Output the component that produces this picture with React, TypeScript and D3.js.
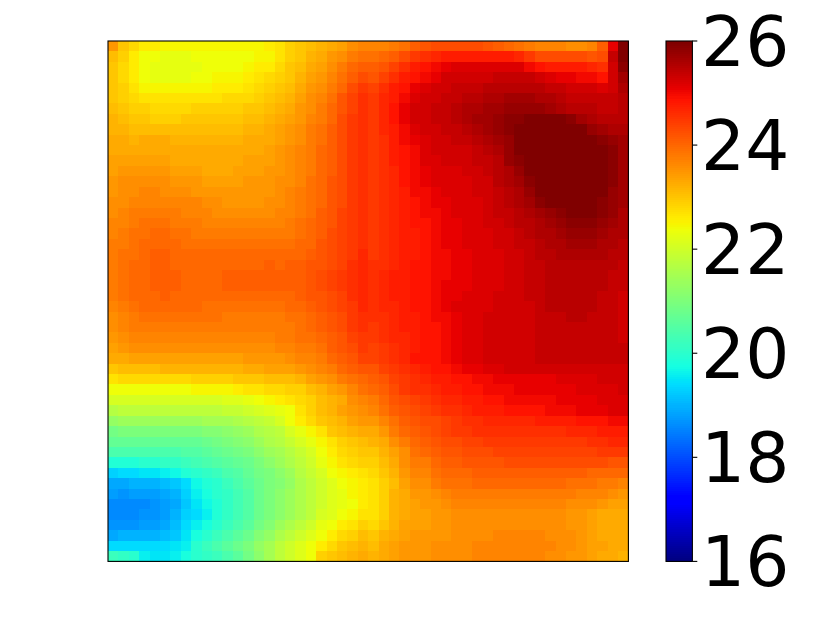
import React from "react";
import * as d3 from "d3";

const colorbarTicks = [16, 18, 20, 22, 24, 26];

const heatRows: number[][] = [
[23.5,23.0,22.8,22.6,22.6,22.5,22.5,22.5,22.5,22.5,22.5,22.5,22.5,22.5,22.5,22.6,22.7,22.9,23.0,23.1,23.2,23.3,23.4,23.6,23.7,23.7,23.7,23.8,23.9,24.1,24.2,24.3,24.3,24.3,24.3,24.3,24.2,24.1,24.0,23.9,23.8,23.7,23.7,23.7,23.6,23.6,23.7,24.1,25.1,26.0],
[23.1,22.9,22.6,22.4,22.4,22.3,22.3,22.3,22.4,22.4,22.4,22.4,22.4,22.4,22.5,22.5,22.7,22.9,23.0,23.2,23.3,23.5,23.6,23.8,23.9,23.9,24.0,24.1,24.3,24.5,24.6,24.7,24.8,24.8,24.8,24.8,24.8,24.8,24.8,24.7,24.5,24.3,24.3,24.3,24.3,24.3,24.2,24.3,25.4,26.0],
[23.0,22.8,22.6,22.4,22.3,22.3,22.3,22.3,22.3,22.4,22.4,22.4,22.4,22.5,22.6,22.6,22.8,23.0,23.1,23.3,23.4,23.6,23.8,24.0,24.1,24.1,24.2,24.4,24.6,24.8,24.9,25.0,25.1,25.2,25.2,25.2,25.2,25.2,25.2,25.2,25.0,24.9,24.8,24.8,24.8,24.8,24.7,24.6,25.3,25.9],
[23.0,22.8,22.6,22.4,22.3,22.3,22.3,22.3,22.4,22.4,22.5,22.5,22.5,22.6,22.7,22.8,22.9,23.0,23.2,23.4,23.5,23.7,23.9,24.1,24.3,24.2,24.4,24.6,24.8,24.9,25.0,25.1,25.3,25.3,25.3,25.3,25.3,25.4,25.4,25.4,25.4,25.3,25.2,25.1,25.1,25.0,25.0,24.9,25.3,25.7],
[23.0,22.9,22.7,22.5,22.5,22.5,22.5,22.5,22.5,22.5,22.6,22.6,22.6,22.7,22.8,22.9,23.0,23.1,23.3,23.5,23.6,23.8,24.0,24.3,24.5,24.4,24.6,24.8,24.9,25.1,25.2,25.3,25.3,25.4,25.4,25.4,25.5,25.5,25.5,25.5,25.5,25.5,25.4,25.4,25.3,25.3,25.3,25.2,25.3,25.6],
[23.0,22.9,22.8,22.7,22.7,22.7,22.7,22.7,22.7,22.7,22.7,22.8,22.8,22.8,22.9,23.0,23.1,23.2,23.4,23.6,23.7,23.9,24.2,24.4,24.6,24.5,24.7,24.8,25.0,25.2,25.3,25.3,25.4,25.4,25.5,25.5,25.6,25.6,25.7,25.7,25.7,25.6,25.6,25.5,25.4,25.4,25.4,25.4,25.4,25.5],
[23.1,23.0,22.9,22.9,22.8,22.8,22.8,22.8,22.9,22.9,22.9,22.9,22.9,23.0,23.0,23.1,23.2,23.3,23.5,23.6,23.8,24.0,24.2,24.4,24.6,24.5,24.7,24.9,25.1,25.3,25.3,25.4,25.4,25.5,25.6,25.6,25.7,25.7,25.8,25.8,25.8,25.8,25.7,25.6,25.5,25.5,25.5,25.4,25.4,25.5],
[23.2,23.1,23.0,23.0,22.9,22.9,22.9,23.0,23.0,23.0,23.0,23.0,23.0,23.1,23.1,23.2,23.3,23.4,23.5,23.7,23.8,24.0,24.3,24.5,24.6,24.5,24.7,24.9,25.1,25.3,25.3,25.4,25.4,25.5,25.6,25.7,25.7,25.8,25.9,25.9,26.0,26.0,26.0,26.0,25.9,25.7,25.6,25.5,25.5,25.5],
[23.2,23.2,23.1,23.1,23.1,23.1,23.1,23.1,23.1,23.1,23.1,23.1,23.1,23.2,23.2,23.3,23.4,23.5,23.6,23.8,23.9,24.1,24.3,24.5,24.6,24.5,24.7,24.8,25.0,25.2,25.3,25.3,25.4,25.4,25.5,25.6,25.7,25.8,25.9,26.0,26.0,26.0,26.0,26.0,26.0,26.0,25.8,25.7,25.6,25.6],
[23.3,23.3,23.2,23.3,23.3,23.3,23.2,23.2,23.2,23.2,23.2,23.2,23.2,23.3,23.3,23.3,23.4,23.5,23.6,23.8,23.9,24.1,24.3,24.5,24.6,24.5,24.6,24.8,25.0,25.1,25.2,25.3,25.3,25.4,25.4,25.5,25.6,25.7,25.8,26.0,26.0,26.0,26.0,26.0,26.0,26.0,26.0,25.9,25.8,25.7],
[23.3,23.3,23.3,23.3,23.3,23.3,23.3,23.3,23.3,23.3,23.3,23.3,23.3,23.3,23.3,23.4,23.5,23.6,23.7,23.8,24.0,24.1,24.3,24.5,24.6,24.5,24.6,24.8,24.9,25.0,25.2,25.3,25.3,25.3,25.3,25.4,25.5,25.6,25.8,26.0,26.0,26.0,26.0,26.0,26.0,26.0,26.0,26.0,25.9,25.7],
[23.4,23.4,23.4,23.4,23.4,23.4,23.3,23.3,23.3,23.3,23.3,23.3,23.3,23.4,23.4,23.4,23.5,23.6,23.7,23.8,24.0,24.1,24.3,24.5,24.6,24.5,24.6,24.8,24.9,25.0,25.2,25.2,25.3,25.3,25.3,25.4,25.4,25.5,25.8,25.9,26.0,26.0,26.0,26.0,26.0,26.0,26.0,26.0,25.9,25.7],
[23.4,23.5,23.5,23.5,23.5,23.5,23.4,23.4,23.4,23.3,23.3,23.3,23.4,23.4,23.4,23.5,23.5,23.6,23.7,23.8,24.0,24.1,24.3,24.5,24.6,24.5,24.6,24.7,24.9,25.0,25.1,25.2,25.2,25.2,25.3,25.3,25.4,25.5,25.6,25.8,26.0,26.0,26.0,26.0,26.0,26.0,26.0,26.0,25.9,25.7],
[23.5,23.6,23.6,23.6,23.6,23.6,23.5,23.5,23.5,23.4,23.4,23.4,23.4,23.5,23.5,23.5,23.6,23.6,23.7,23.9,24.0,24.2,24.3,24.5,24.6,24.5,24.6,24.7,24.9,25.0,25.1,25.2,25.2,25.2,25.2,25.3,25.3,25.5,25.6,25.7,25.9,26.0,26.0,26.0,26.0,26.0,26.0,26.0,25.9,25.7],
[23.5,23.6,23.6,23.7,23.7,23.6,23.6,23.6,23.5,23.5,23.5,23.5,23.5,23.5,23.5,23.5,23.6,23.7,23.8,23.9,24.0,24.2,24.3,24.5,24.6,24.5,24.6,24.7,24.8,25.0,25.0,25.1,25.2,25.2,25.2,25.3,25.3,25.4,25.5,25.6,25.8,26.0,26.0,26.0,26.0,26.0,26.0,26.0,25.8,25.7],
[23.6,23.6,23.7,23.7,23.7,23.7,23.7,23.7,23.7,23.6,23.6,23.5,23.5,23.5,23.5,23.6,23.6,23.7,23.8,23.9,24.0,24.2,24.3,24.5,24.6,24.5,24.6,24.7,24.8,24.9,25.0,25.1,25.1,25.2,25.2,25.2,25.3,25.4,25.5,25.6,25.7,25.9,26.0,26.0,26.0,26.0,26.0,25.9,25.8,25.7],
[23.6,23.7,23.8,23.8,23.8,23.8,23.8,23.7,23.7,23.7,23.6,23.6,23.6,23.6,23.6,23.6,23.7,23.7,23.8,23.9,24.1,24.2,24.4,24.5,24.6,24.5,24.6,24.7,24.8,24.9,25.0,25.0,25.1,25.2,25.2,25.2,25.3,25.4,25.4,25.5,25.6,25.7,25.8,25.9,26.0,26.0,26.0,25.9,25.8,25.6],
[23.7,23.7,23.8,23.9,23.9,23.9,23.8,23.8,23.8,23.7,23.7,23.7,23.7,23.7,23.7,23.7,23.7,23.8,23.9,24.0,24.1,24.2,24.4,24.5,24.6,24.5,24.6,24.7,24.8,24.9,24.9,25.0,25.1,25.1,25.2,25.2,25.3,25.3,25.4,25.5,25.5,25.6,25.7,25.8,25.9,25.9,25.9,25.8,25.7,25.6],
[23.7,23.8,23.9,23.9,24.0,24.0,23.9,23.9,23.8,23.8,23.8,23.8,23.8,23.8,23.8,23.8,23.8,23.8,23.9,24.0,24.1,24.3,24.4,24.5,24.6,24.5,24.6,24.7,24.8,24.8,24.9,25.0,25.1,25.1,25.2,25.2,25.2,25.3,25.3,25.4,25.5,25.6,25.6,25.7,25.8,25.8,25.8,25.7,25.6,25.6],
[23.8,23.8,23.9,24.0,24.0,24.0,24.0,23.9,23.9,23.9,23.9,23.9,23.9,23.9,23.9,23.9,23.9,23.9,24.0,24.0,24.2,24.3,24.4,24.5,24.6,24.5,24.6,24.7,24.8,24.8,24.9,25.0,25.1,25.1,25.2,25.2,25.2,25.3,25.3,25.4,25.4,25.5,25.6,25.6,25.7,25.7,25.7,25.6,25.6,25.5],
[23.8,23.9,23.9,24.0,24.1,24.1,24.0,24.0,24.0,24.0,24.0,24.0,24.0,24.0,24.0,24.0,24.0,24.0,24.0,24.1,24.2,24.3,24.4,24.5,24.7,24.5,24.6,24.7,24.8,24.8,24.9,25.0,25.0,25.1,25.1,25.2,25.2,25.2,25.3,25.3,25.4,25.5,25.5,25.6,25.6,25.6,25.6,25.6,25.5,25.5],
[23.8,23.9,24.0,24.0,24.1,24.1,24.0,24.0,24.0,24.0,24.0,24.0,24.0,24.0,24.0,24.1,24.0,24.1,24.1,24.2,24.2,24.3,24.4,24.6,24.7,24.6,24.6,24.7,24.8,24.9,24.9,25.0,25.0,25.1,25.1,25.2,25.2,25.2,25.3,25.3,25.4,25.4,25.5,25.5,25.5,25.5,25.5,25.5,25.5,25.4],
[23.8,23.9,24.0,24.0,24.1,24.1,24.1,24.0,24.0,24.0,24.0,24.1,24.1,24.1,24.1,24.1,24.1,24.1,24.1,24.2,24.3,24.4,24.5,24.6,24.7,24.6,24.7,24.8,24.8,24.9,24.9,25.0,25.0,25.1,25.1,25.2,25.2,25.2,25.3,25.3,25.4,25.4,25.5,25.5,25.5,25.5,25.5,25.5,25.4,25.4],
[23.8,23.9,24.0,24.0,24.1,24.1,24.1,24.0,24.0,24.0,24.0,24.1,24.1,24.1,24.1,24.1,24.1,24.1,24.1,24.2,24.3,24.4,24.5,24.6,24.7,24.6,24.7,24.8,24.8,24.9,24.9,25.0,25.1,25.1,25.1,25.2,25.2,25.2,25.3,25.3,25.4,25.4,25.5,25.5,25.5,25.5,25.5,25.5,25.4,25.4],
[23.8,23.9,24.0,24.0,24.0,24.1,24.0,24.0,24.0,24.0,24.0,24.0,24.0,24.0,24.0,24.0,24.0,24.0,24.1,24.2,24.2,24.3,24.4,24.6,24.7,24.6,24.7,24.8,24.8,24.9,24.9,25.0,25.1,25.1,25.2,25.2,25.2,25.3,25.3,25.3,25.4,25.4,25.5,25.5,25.5,25.5,25.5,25.4,25.4,25.3],
[23.7,23.8,23.9,24.0,24.0,24.0,24.0,24.0,24.0,23.9,23.9,23.9,23.9,23.9,23.9,23.9,23.9,24.0,24.0,24.1,24.2,24.3,24.4,24.5,24.7,24.6,24.7,24.7,24.8,24.9,24.9,25.0,25.1,25.2,25.2,25.2,25.2,25.3,25.3,25.3,25.3,25.4,25.5,25.5,25.5,25.5,25.5,25.4,25.4,25.3],
[23.6,23.7,23.8,23.9,23.9,23.9,23.9,23.9,23.9,23.9,23.9,23.8,23.8,23.8,23.8,23.8,23.8,23.9,23.9,24.0,24.1,24.2,24.3,24.5,24.6,24.6,24.6,24.7,24.8,24.8,24.9,25.0,25.0,25.1,25.2,25.2,25.3,25.3,25.3,25.3,25.3,25.4,25.4,25.4,25.5,25.5,25.4,25.4,25.4,25.3],
[23.6,23.7,23.8,23.8,23.8,23.8,23.8,23.8,23.8,23.8,23.8,23.8,23.8,23.8,23.8,23.8,23.8,23.8,23.9,24.0,24.1,24.2,24.3,24.5,24.6,24.5,24.6,24.7,24.8,24.8,24.9,24.9,25.0,25.1,25.2,25.2,25.3,25.3,25.3,25.3,25.3,25.4,25.4,25.4,25.4,25.4,25.4,25.4,25.4,25.3],
[23.5,23.6,23.7,23.7,23.7,23.7,23.7,23.7,23.7,23.7,23.7,23.7,23.7,23.7,23.7,23.7,23.8,23.8,23.9,23.9,24.0,24.1,24.2,24.4,24.5,24.5,24.6,24.7,24.7,24.8,24.9,24.9,25.0,25.1,25.2,25.2,25.3,25.3,25.3,25.3,25.3,25.4,25.4,25.4,25.4,25.4,25.4,25.4,25.4,25.3],
[23.4,23.5,23.6,23.6,23.6,23.6,23.6,23.6,23.6,23.6,23.6,23.6,23.6,23.6,23.6,23.6,23.7,23.7,23.8,23.8,23.9,24.1,24.2,24.3,24.5,24.4,24.5,24.6,24.7,24.8,24.9,24.9,25.0,25.1,25.2,25.2,25.3,25.3,25.3,25.3,25.3,25.4,25.4,25.4,25.4,25.4,25.4,25.4,25.4,25.4],
[23.3,23.3,23.4,23.4,23.4,23.4,23.4,23.4,23.4,23.4,23.4,23.4,23.4,23.5,23.5,23.5,23.5,23.6,23.7,23.7,23.8,24.0,24.1,24.2,24.4,24.4,24.5,24.6,24.7,24.9,24.9,24.9,25.0,25.1,25.2,25.2,25.3,25.3,25.3,25.3,25.3,25.4,25.4,25.4,25.4,25.4,25.4,25.4,25.4,25.4],
[23.0,23.1,23.1,23.1,23.1,23.2,23.2,23.2,23.2,23.2,23.2,23.2,23.2,23.3,23.3,23.4,23.4,23.4,23.5,23.6,23.7,23.8,24.0,24.1,24.2,24.2,24.4,24.5,24.6,24.7,24.8,24.9,24.9,25.0,25.1,25.1,25.2,25.2,25.3,25.3,25.3,25.3,25.3,25.3,25.3,25.3,25.3,25.3,25.3,25.3],
[22.7,22.8,22.8,22.8,22.8,22.8,22.8,22.8,22.9,22.9,22.9,22.9,23.0,23.0,23.0,23.1,23.1,23.1,23.2,23.4,23.5,23.6,23.8,23.9,24.0,24.1,24.2,24.4,24.5,24.6,24.7,24.8,24.8,24.9,24.9,25.0,25.0,25.1,25.1,25.1,25.1,25.1,25.1,25.2,25.2,25.2,25.2,25.3,25.3,25.3],
[22.4,22.4,22.4,22.4,22.4,22.4,22.4,22.4,22.5,22.5,22.5,22.5,22.6,22.7,22.7,22.8,22.8,22.9,22.9,23.1,23.2,23.4,23.5,23.7,23.9,24.0,24.1,24.3,24.5,24.6,24.6,24.7,24.8,24.8,24.9,24.9,25.0,25.0,25.0,25.1,25.1,25.1,25.1,25.1,25.1,25.2,25.2,25.2,25.2,25.3],
[22.1,22.1,22.1,22.1,22.1,22.1,22.1,22.1,22.1,22.1,22.1,22.2,22.2,22.3,22.4,22.5,22.6,22.7,22.8,22.9,23.1,23.2,23.3,23.6,23.7,23.8,24.0,24.2,24.3,24.4,24.5,24.6,24.7,24.7,24.8,24.8,24.9,24.9,25.0,25.0,25.0,25.0,25.0,25.1,25.1,25.1,25.1,25.2,25.2,25.2],
[21.7,21.8,21.8,21.8,21.8,21.8,21.8,21.8,21.8,21.8,21.8,21.9,21.9,22.0,22.1,22.2,22.3,22.4,22.7,22.9,23.1,23.2,23.4,23.5,23.6,23.7,23.9,24.1,24.2,24.3,24.4,24.5,24.6,24.6,24.7,24.8,24.8,24.8,24.9,24.9,24.9,24.9,25.0,25.0,25.0,25.1,25.1,25.1,25.2,25.2],
[21.3,21.4,21.4,21.4,21.4,21.4,21.4,21.4,21.4,21.5,21.5,21.5,21.6,21.7,21.8,21.9,22.1,22.4,22.6,22.8,23.0,23.1,23.2,23.4,23.5,23.5,23.7,23.9,24.1,24.2,24.3,24.3,24.4,24.5,24.6,24.6,24.7,24.7,24.7,24.7,24.7,24.8,24.8,24.8,24.8,24.9,24.9,24.9,25.0,25.0],
[20.9,21.0,21.0,21.0,21.0,21.0,21.0,21.0,21.0,21.1,21.1,21.2,21.3,21.4,21.6,21.7,21.8,22.1,22.3,22.5,22.7,23.0,23.1,23.2,23.3,23.3,23.5,23.8,24.0,24.1,24.2,24.3,24.4,24.5,24.5,24.6,24.6,24.6,24.6,24.6,24.6,24.6,24.6,24.6,24.7,24.7,24.7,24.8,24.8,24.8],
[20.7,20.7,20.7,20.7,20.7,20.7,20.7,20.7,20.7,20.8,20.9,21.0,21.1,21.2,21.4,21.6,21.7,21.9,22.1,22.3,22.5,22.7,22.9,23.0,23.1,23.2,23.3,23.6,23.8,24.0,24.1,24.2,24.3,24.3,24.4,24.4,24.5,24.5,24.5,24.5,24.5,24.5,24.5,24.5,24.5,24.5,24.6,24.6,24.7,24.7],
[20.4,20.4,20.4,20.4,20.4,20.4,20.4,20.5,20.5,20.6,20.7,20.8,20.9,21.0,21.2,21.4,21.5,21.7,21.9,22.1,22.4,22.6,22.8,22.9,23.0,23.0,23.2,23.4,23.6,23.9,24.0,24.1,24.2,24.2,24.3,24.3,24.3,24.4,24.4,24.4,24.4,24.4,24.4,24.4,24.4,24.4,24.4,24.5,24.5,24.5],
[19.9,19.9,19.9,20.0,20.0,20.1,20.1,20.2,20.3,20.4,20.5,20.6,20.7,20.8,21.0,21.2,21.4,21.6,21.8,22.0,22.3,22.5,22.7,22.8,22.9,22.9,23.1,23.3,23.6,23.8,23.8,24.0,24.1,24.1,24.2,24.2,24.2,24.2,24.3,24.3,24.3,24.3,24.3,24.3,24.3,24.3,24.3,24.3,24.2,24.2],
[19.3,19.4,19.4,19.5,19.5,19.6,19.7,19.9,20.0,20.1,20.2,20.4,20.5,20.7,20.9,21.0,21.2,21.4,21.7,21.9,22.1,22.4,22.5,22.6,22.7,22.8,23.0,23.2,23.5,23.7,23.7,23.9,24.0,24.0,24.0,24.1,24.1,24.1,24.1,24.1,24.1,24.1,24.1,24.1,24.1,24.1,24.0,24.0,24.0,24.0],
[18.9,18.9,19.0,19.0,19.0,19.1,19.2,19.4,19.7,19.9,20.0,20.2,20.4,20.6,20.8,21.0,21.1,21.3,21.6,21.8,22.0,22.2,22.4,22.5,22.6,22.7,22.9,23.1,23.4,23.6,23.6,23.8,23.9,23.9,23.9,24.0,24.0,24.0,24.0,24.0,24.0,24.0,24.0,24.0,23.9,23.9,23.9,23.8,23.8,23.7],
[18.8,18.7,18.8,18.8,18.8,18.9,19.0,19.3,19.6,19.8,20.0,20.1,20.3,20.5,20.8,21.0,21.2,21.4,21.6,21.8,22.0,22.2,22.3,22.5,22.6,22.7,22.9,23.2,23.3,23.5,23.5,23.6,23.7,23.8,23.8,23.8,23.8,23.8,23.8,23.8,23.8,23.8,23.8,23.8,23.8,23.7,23.7,23.7,23.6,23.5],
[18.6,18.6,18.6,18.6,18.7,18.8,18.9,19.2,19.5,19.7,19.9,20.1,20.3,20.5,20.8,21.0,21.2,21.4,21.6,21.8,22.0,22.2,22.3,22.4,22.6,22.7,22.9,23.2,23.3,23.4,23.5,23.5,23.6,23.7,23.7,23.7,23.7,23.7,23.7,23.7,23.7,23.7,23.7,23.7,23.6,23.6,23.6,23.5,23.4,23.4],
[18.6,18.6,18.6,18.7,18.7,18.8,19.0,19.3,19.4,19.6,19.9,20.1,20.3,20.5,20.8,21.0,21.2,21.4,21.6,21.8,22.1,22.2,22.4,22.5,22.7,22.7,22.9,23.2,23.3,23.4,23.4,23.5,23.5,23.6,23.6,23.6,23.6,23.6,23.6,23.6,23.6,23.6,23.6,23.6,23.5,23.5,23.4,23.3,23.3,23.3],
[18.7,18.7,18.7,18.8,18.8,18.9,19.1,19.4,19.6,19.8,20.0,20.2,20.4,20.6,20.9,21.1,21.4,21.6,21.8,22.0,22.3,22.4,22.6,22.7,22.9,22.8,23.0,23.2,23.4,23.4,23.4,23.5,23.5,23.6,23.6,23.6,23.6,23.6,23.6,23.6,23.6,23.6,23.6,23.6,23.5,23.5,23.4,23.3,23.3,23.3],
[18.9,19.0,19.0,19.0,19.0,19.1,19.2,19.5,19.8,20.0,20.2,20.4,20.6,20.8,21.1,21.3,21.6,21.8,22.0,22.2,22.4,22.6,22.8,22.9,23.1,23.0,23.2,23.3,23.4,23.5,23.5,23.5,23.5,23.6,23.6,23.6,23.6,23.7,23.7,23.7,23.7,23.7,23.6,23.6,23.6,23.5,23.4,23.3,23.3,23.3],
[19.4,19.4,19.4,19.4,19.4,19.4,19.5,19.6,20.0,20.2,20.4,20.6,20.8,21.0,21.3,21.5,21.8,22.0,22.2,22.4,22.6,22.8,23.0,23.1,23.2,23.1,23.3,23.4,23.5,23.5,23.5,23.6,23.6,23.6,23.6,23.7,23.7,23.7,23.7,23.7,23.7,23.7,23.7,23.6,23.6,23.5,23.4,23.4,23.3,23.3],
[20.2,20.1,20.0,19.6,19.5,19.5,19.6,19.8,20.0,20.1,20.2,20.4,20.6,20.9,21.2,21.5,21.8,22.0,22.2,22.4,22.9,23.0,23.1,23.2,23.3,23.2,23.3,23.4,23.5,23.5,23.5,23.6,23.6,23.6,23.6,23.7,23.7,23.7,23.7,23.7,23.7,23.7,23.6,23.6,23.5,23.5,23.4,23.3,23.3,23.2],
];

const COLS = d3.range(50);
const ROWS = d3.range(50);

const W = 822;
const H = 617;
const plot = { left: 108, right: 628.4, top: 41, bottom: 561.4 };
const bar = { left: 666, right: 692.4 };

// matplotlib "jet"
const jetR = d3.scaleLinear().domain([0, 0.35, 0.66, 0.89, 1]).range([0, 0, 1, 1, 0.5]).clamp(true);
const jetG = d3.scaleLinear().domain([0, 0.125, 0.375, 0.64, 0.91, 1]).range([0, 0, 1, 1, 0, 0]).clamp(true);
const jetB = d3.scaleLinear().domain([0, 0.11, 0.34, 0.65, 1]).range([0.5, 1, 1, 0, 0]).clamp(true);
const jet = (t: number) =>
  d3.rgb(Math.round(jetR(t) * 255), Math.round(jetG(t) * 255), Math.round(jetB(t) * 255)).formatRgb();

const norm = d3.scaleLinear().domain([16, 26]).range([0, 1]).clamp(true);
const x = d3.scaleBand<number>().domain(COLS).range([plot.left, plot.right]);
const y = d3.scaleBand<number>().domain(ROWS).range([plot.top, plot.bottom]);
const barY = d3.scaleLinear().domain([16, 26]).range([plot.bottom, plot.top]);
const levels = d3.range(256);

export default function App() {
  return (
    <svg width={W} height={H} style={{ position: "absolute", left: 0, top: 0, background: "#fff" }}>
      <g shapeRendering="crispEdges">
        {heatRows.map((row, j) =>
          row.map((v, i) => (
            <rect
              key={`${j}-${i}`}
              x={x(i)}
              y={y(j)}
              width={x.bandwidth() + 0.5}
              height={y.bandwidth() + 0.5}
              fill={jet(norm(v))}
            />
          ))
        )}
      </g>
      <rect
        x={plot.left}
        y={plot.top}
        width={plot.right - plot.left}
        height={plot.bottom - plot.top}
        fill="none"
        stroke="#000"
        strokeWidth={1.1}
      />
      <g shapeRendering="crispEdges">
        {levels.map((l) => {
          const h = (plot.bottom - plot.top) / 256;
          return (
            <rect
              key={l}
              x={bar.left}
              width={bar.right - bar.left}
              y={plot.bottom - (l + 1) * h}
              height={h + 0.6}
              fill={jet(l / 255)}
            />
          );
        })}
      </g>
      <rect
        x={bar.left}
        y={plot.top}
        width={bar.right - bar.left}
        height={plot.bottom - plot.top}
        fill="none"
        stroke="#000"
        strokeWidth={1.1}
      />
      {colorbarTicks.map((t) => (
        <g key={t}>
          <line x1={bar.right} x2={bar.right + 4.9} y1={barY(t)} y2={barY(t)} stroke="#000" strokeWidth={1.1} />
          <text
            x={701}
            y={barY(t) + 25}
            fontFamily="'DejaVu Sans'"
            fontSize={69.4}
            fill="#000"
          >
            {t}
          </text>
        </g>
      ))}
    </svg>
  );
}
